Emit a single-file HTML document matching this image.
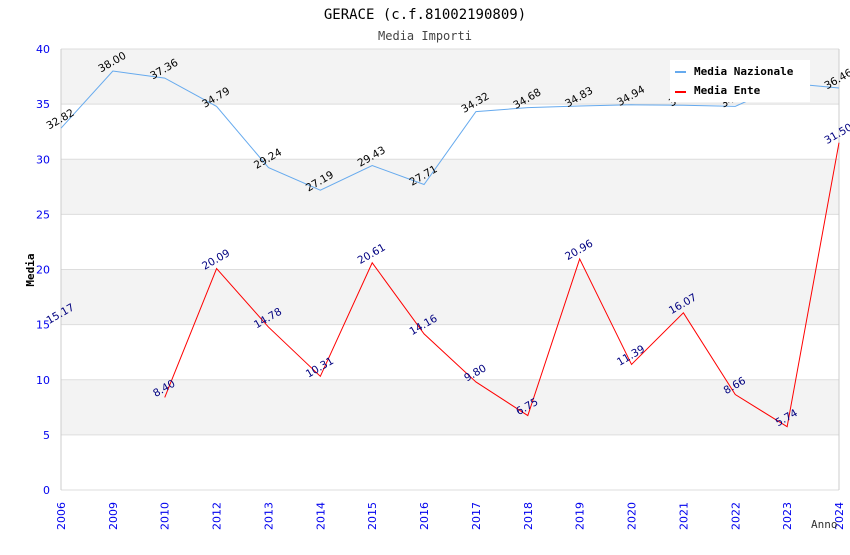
<!DOCTYPE html>
<html><head><meta charset="utf-8"><style>
body{margin:0;background:#fff;}
svg text{font-family:"DejaVu Sans","Liberation Sans",sans-serif;}
</style></head><body>
<svg id="c" width="850" height="550" xmlns="http://www.w3.org/2000/svg">
<text x="425" y="19" text-anchor="middle" font-size="14" style="font-family:'DejaVu Sans Mono','Liberation Mono',monospace" fill="#000">GERACE (c.f.81002190809)</text>
<text x="425" y="40" text-anchor="middle" font-size="12" style="font-family:'DejaVu Sans Mono','Liberation Mono',monospace" fill="#444">Media Importi</text>
<g id="bands"></g><g id="grid"></g><g id="axes"></g><g id="series"></g><g id="labels"></g>
<text transform="translate(34,270) rotate(-90)" text-anchor="middle" font-size="11" font-weight="bold" style="font-family:'DejaVu Sans Mono',monospace">Media</text>
<text x="811" y="528" font-size="11" style="font-family:'DejaVu Sans Mono',monospace" fill="#333">Anno</text>
<g>
<rect x="670" y="60" width="140" height="42" fill="#fff"/>
<rect x="675" y="71" width="11" height="2" fill="#66aaee"/>
<text x="694" y="75" font-size="11" font-weight="bold" style="font-family:'DejaVu Sans Mono',monospace">Media Nazionale</text>
<rect x="675" y="91" width="11" height="2" fill="#ff0000"/>
<text x="694" y="94" font-size="11" font-weight="bold" style="font-family:'DejaVu Sans Mono',monospace">Media Ente</text>
</g>
</svg>
<script>
const categories=["2006","2009","2010","2012","2013","2014","2015","2016","2017","2018","2019","2020","2021","2022","2023","2024"];
const nazionale=[32.82,38.00,37.36,34.79,29.24,27.19,29.43,27.71,34.32,34.68,34.83,34.94,34.90,34.80,36.90,36.46];
const ente=[15.17,null,8.40,20.09,14.78,10.31,20.61,14.16,9.80,6.75,20.96,11.39,16.07,8.66,5.74,31.50];
const yTicks=[0,5,10,15,20,25,30,35,40];
const L=61,R=839,T=49,B=490,yMax=40;
const NS="http://www.w3.org/2000/svg";
const x=i=>L+i*(R-L)/(categories.length-1);
const y=v=>B-v/yMax*(B-T);
function mk(tag,attrs,parent,txt){const e=document.createElementNS(NS,tag);for(const k in attrs)e.setAttribute(k,attrs[k]);if(txt!==undefined)e.textContent=txt;document.getElementById(parent).appendChild(e);return e;}
for(let i=0;i<yTicks.length-1;i++){
 if(i%2===1){const r=mk('rect',{x:L,y:y(yTicks[i+1]),width:R-L,height:y(yTicks[i])-y(yTicks[i+1]),fill:'#f3f3f3'},'bands');
 
 }
}
yTicks.forEach(t=>{
 const g=mk('line',{x1:L,x2:R,y1:y(t),y2:y(t),stroke:'#dddddd'},'grid');
 
 
 const tx=mk('text',{x:L-11,y:y(t)+4,'text-anchor':'end','font-size':11,fill:'#0000ee'},'axes',String(t));
 
 
});
mk('line',{x1:L,x2:L,y1:T,y2:B,stroke:'#cccccc'},'axes');
mk('line',{x1:R,x2:R,y1:T,y2:B,stroke:'#cccccc'},'axes');
categories.forEach((c,i)=>{
 const t=mk('text',{transform:`translate(${x(i)+4},530) rotate(-90)`,'font-size':11,fill:'#0000ee'},'axes',c);
 
 
});
function series(vals,color,lblColor,name){
 let d='',pen=false;
 vals.forEach((v,i)=>{
  if(v===null){pen=false;return;}
  d+=(pen?'L':'M')+x(i)+','+y(v)+' ';pen=true;
 });
 const p=mk('path',{d:d,fill:'none',stroke:color,'stroke-width':1},'series');
 
 
 vals.forEach((v,i)=>{
  if(v===null)return;
  const t=mk('text',{transform:`translate(${x(i)+1},${y(v)-6}) rotate(-30)`,'text-anchor':'middle','font-size':10.5,fill:lblColor},'labels',v.toFixed(2));
  
  
 });
}
series(nazionale,'#66aaee','#000','nazionale');
series(ente,'#ff0000','#000080','ente');
</script>
</body></html>
